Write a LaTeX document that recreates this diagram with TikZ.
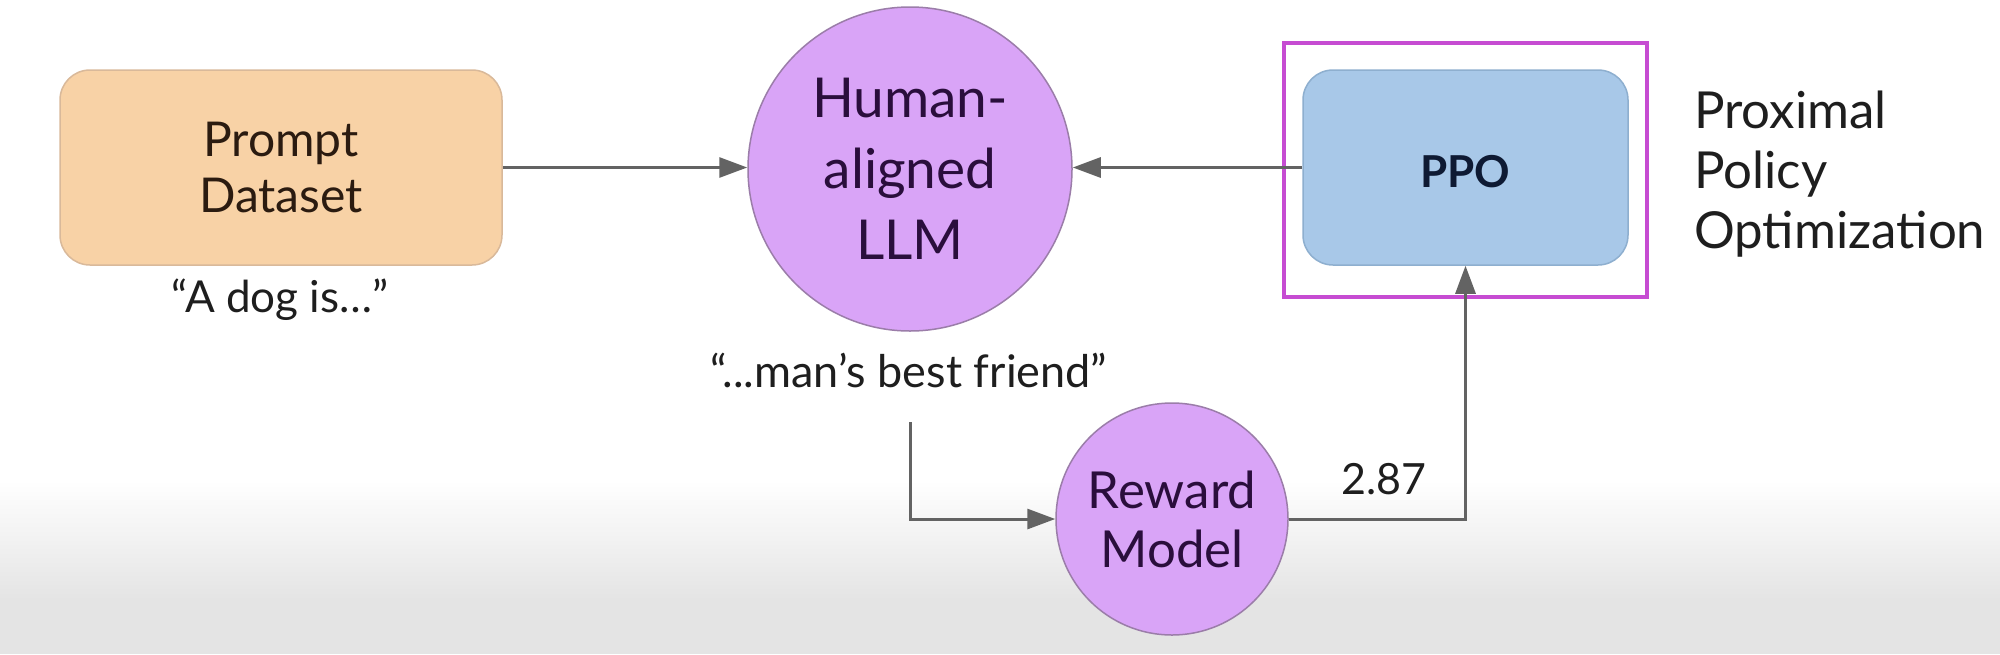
\documentclass[tikz,border=0pt]{standalone}
\usepackage{fontspec}
\setmainfont{Lato}
\usetikzlibrary{arrows.meta}
\definecolor{peach}{HTML}{F8D2A6}
\definecolor{peachline}{HTML}{D9B99A}
\definecolor{lilac}{HTML}{D9A4F7}
\definecolor{lilacline}{HTML}{9B7DA9}
\definecolor{skyblue}{HTML}{A8C8E8}
\definecolor{skyline}{HTML}{8EAFCF}
\definecolor{framepink}{HTML}{C64CD2}
\definecolor{conngray}{HTML}{636363}
\definecolor{darkpurple}{HTML}{2A0E3C}
\definecolor{navytext}{HTML}{0E1A33}
\definecolor{browntext}{HTML}{2B1B10}
\definecolor{captiontext}{HTML}{1E1E1E}
\definecolor{bggray}{HTML}{E4E4E4}
\begin{document}
\begin{tikzpicture}[x=1pt,y=-1pt,
  boxnode/.style={rounded corners=30pt, line width=1.5pt, inner sep=0pt, align=center},
  roundnode/.style={circle, fill=lilac, draw=lilacline, line width=1.5pt, inner sep=0pt, align=center, text=darkpurple},
  conn/.style={draw=conngray, line width=3pt, -{Triangle[length=28pt,width=20pt]}},
  caption/.style={inner sep=0pt, font=\fontsize{44}{50}\selectfont, text=captiontext},
]
\useasboundingbox (0,0) rectangle (2000,654);
\fill[white] (0,0) rectangle (2000,654);
\shade[top color=white, bottom color=bggray] (0,480) rectangle (2000,600);
\fill[bggray] (0,600) rectangle (2000,654);

% nodes
\node[boxnode, fill=peach, draw=peachline, minimum width=442pt, minimum height=195pt,
      text=browntext, font=\fontsize{48}{56}\selectfont] (prompt) at (281,167.5) {Prompt\\Dataset};
\node[roundnode, minimum size=324pt, font=\fontsize{55}{71}\selectfont] (llm) at (910,169) {Human-\\aligned\\LLM};
\node[draw=framepink, line width=3.5pt, minimum width=363pt, minimum height=254pt, inner sep=0pt] (frame) at (1465.5,170) {};
\node[boxnode, fill=skyblue, draw=skyline, minimum width=325pt, minimum height=195pt, text height=40pt, text depth=0pt,
      text=navytext, font=\fontsize{44}{50}\selectfont\bfseries] (ppo) at (1465.5,167.5) {PPO};
\node[roundnode, minimum size=232pt, font=\fontsize{51}{59}\selectfont] (rm) at (1172,519) {Reward\\Model};

% texts
\node[caption, anchor=base] (dog) at (280,312) {“A dog is…”};
\node[caption, font=\fontsize{45}{50}\selectfont, anchor=base] (friend) at (909,387) {“...man’s best friend”};
\node[caption, font=\fontsize{43}{50}\selectfont, anchor=base] (score) at (1384,494) {2.87};
\node[caption, anchor=north west, align=left, font=\fontsize{51}{60}\selectfont] (pponame) at (1694,91) {Proximal\\Policy\\Optimization};

% connectors
\coordinate (outstart) at (910,422);
\draw[conn] (prompt.east) -- (prompt.east -| llm.west);
\draw[conn] (ppo.west) -- (ppo.west -| llm.east);
\draw[conn] (outstart) |- (rm.west);
\draw[conn] (rm.east) -| (ppo.south);
\end{tikzpicture}
\end{document}
